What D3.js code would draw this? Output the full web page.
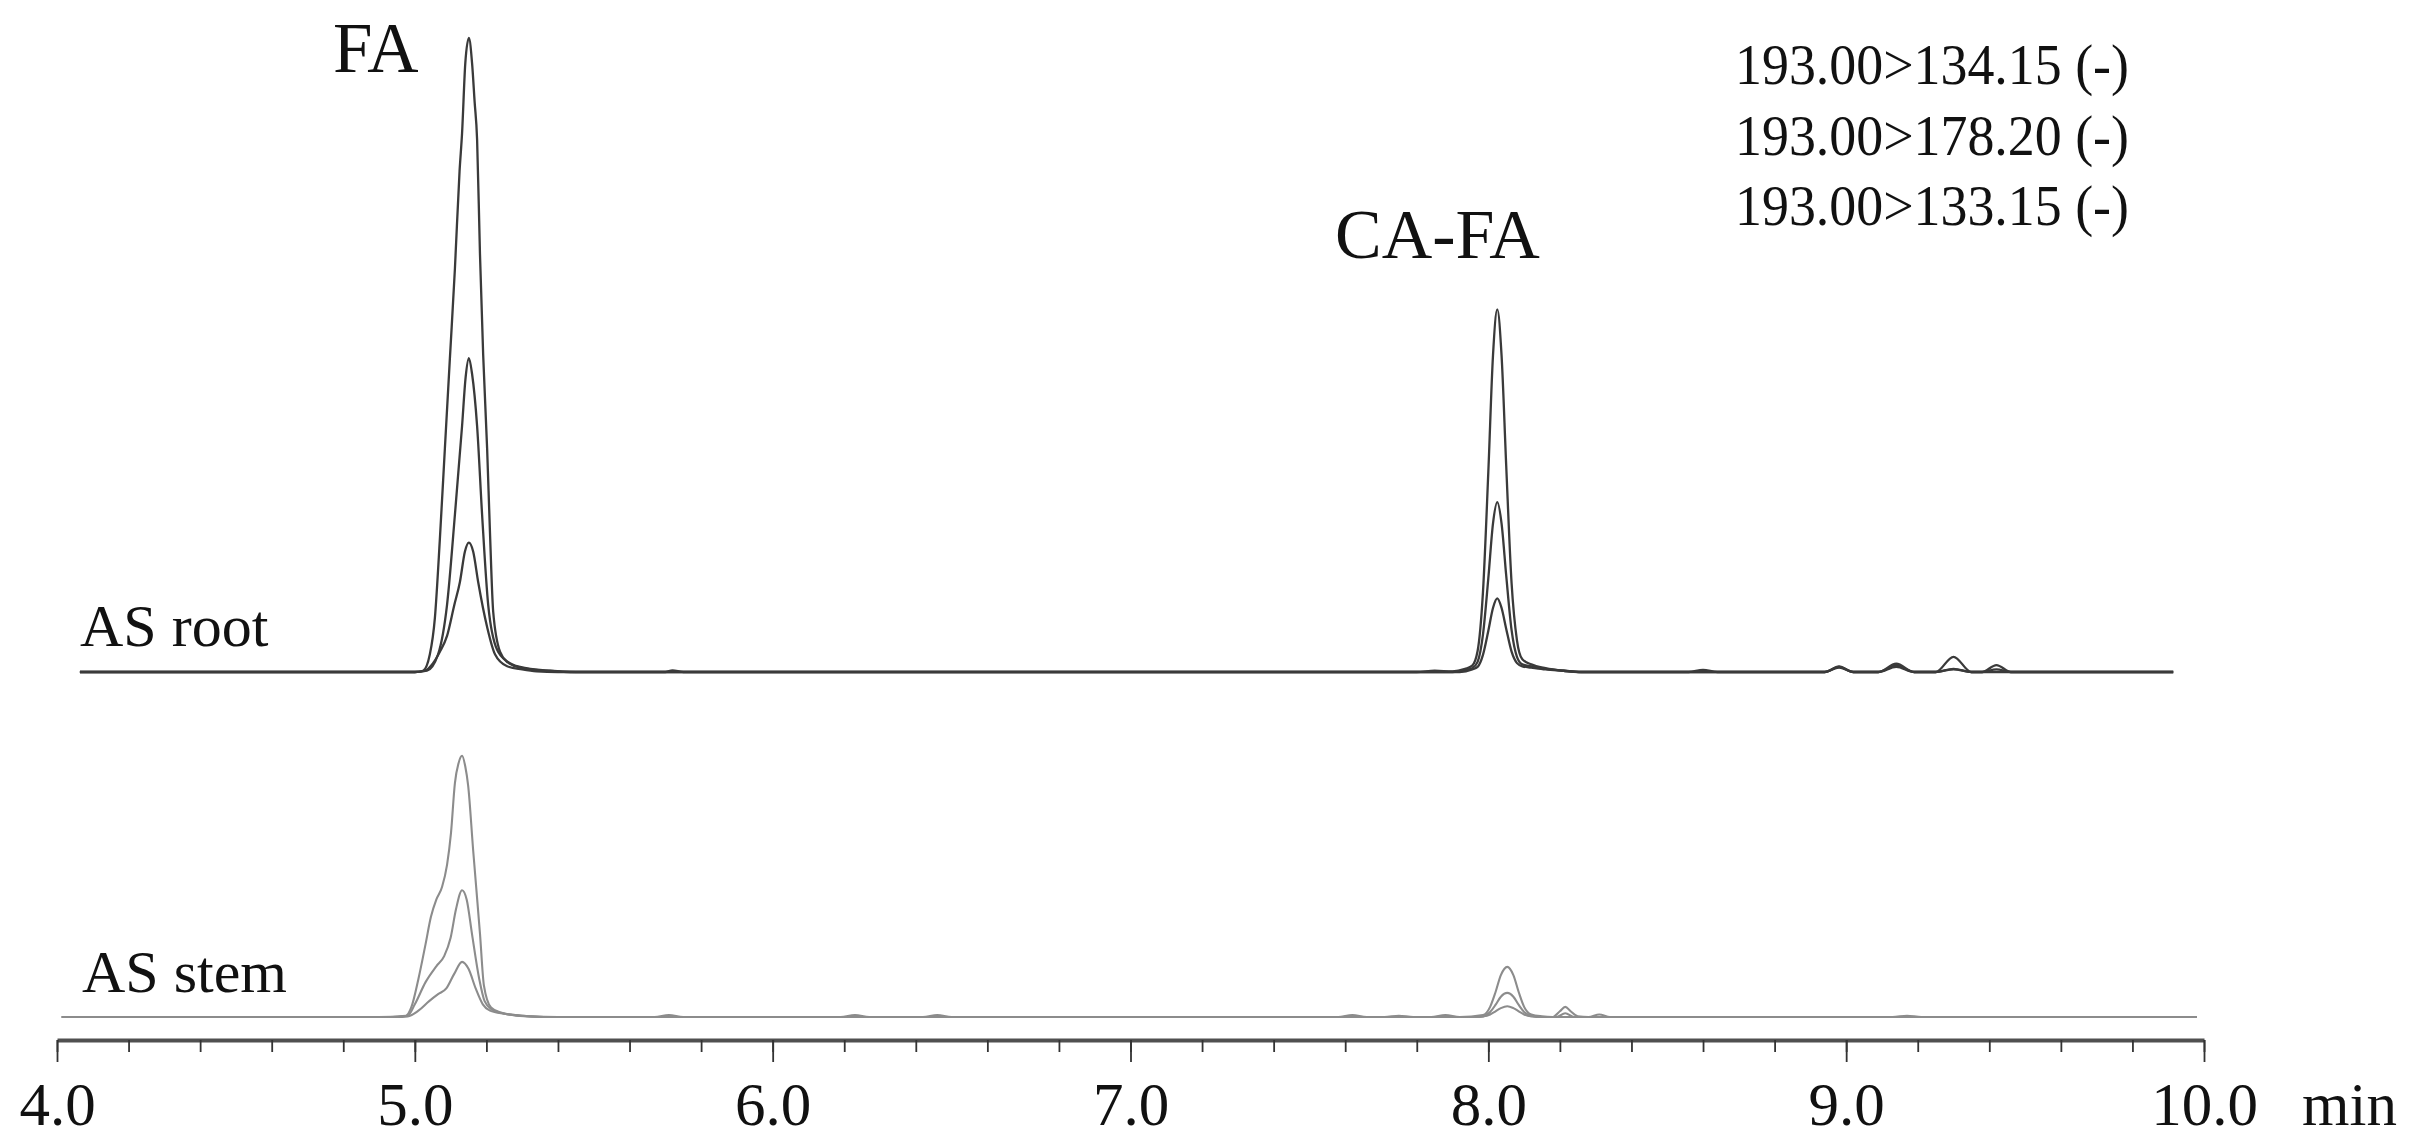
<!DOCTYPE html>
<html>
<head>
<meta charset="utf-8">
<script src="https://cdn.jsdelivr.net/npm/d3@7"></script>
<style>
  html, body { margin: 0; padding: 0; background: #fff; }
  svg { display: block; }
  text { font-family: "Liberation Serif", "Times New Roman", serif; fill: #111; }
</style>
</head>
<body>
<svg id="chart" width="2413" height="1146"></svg>
<script>
// ---------- DATA (time in min, relative intensity) ----------
const majorTicks = [4, 5, 6, 7, 8, 9, 10];
const tickLabels = ["4.0", "5.0", "6.0", "7.0", "8.0", "9.0", "10.0"];
const axisUnit = "min";
const peakLabels = ["FA", "CA-FA"];
const sampleLabels = ["AS root", "AS stem"];
const transitions = ["193.00>134.15 (-)", "193.00>178.20 (-)", "193.00>133.15 (-)"];

// AS root, three MRM transitions
const root1 = [[4.064,0],[4.50,0],[5.00,0],[5.023,0.2],[5.042,2.8],[5.056,8.5],[5.070,21],[5.084,35.3],[5.098,49.5],[5.112,63.6],[5.125,79],[5.132,85],[5.141,96],[5.151,100],[5.160,96],[5.167,90],[5.174,84],[5.182,66],[5.191,50],[5.202,35.3],[5.210,22],[5.219,9.5],[5.238,3.2],[5.260,1.5],[5.294,0.7],[5.370,0.2],[5.45,0],[5.70,0],[5.72,0.25],[5.75,0],[7.80,0],[7.85,0.2],[7.90,0.1],[7.935,0.5],[7.955,1.0],[7.970,3.3],[7.985,12.6],[8.000,31.6],[8.013,49.9],[8.025,57.2],[8.037,49.9],[8.050,32.5],[8.065,14],[8.080,5],[8.095,2],[8.120,1.2],[8.160,0.6],[8.210,0.2],[8.26,0],[8.56,0],[8.60,0.35],[8.64,0],[8.94,0],[8.98,0.9],[9.02,0],[9.09,0],[9.14,1.3],[9.19,0],[9.25,0],[9.30,2.4],[9.35,0],[9.38,0],[9.42,1.1],[9.46,0],[9.914,0]];
const root2 = [[4.064,0],[5.00,0],[5.034,0.2],[5.065,2.8],[5.090,10.6],[5.112,24.8],[5.132,38.8],[5.142,46.5],[5.151,49.5],[5.160,47],[5.174,38.8],[5.188,24.8],[5.205,10.6],[5.230,3.5],[5.260,1.6],[5.294,0.8],[5.378,0.2],[5.45,0],[7.90,0],[7.935,0.3],[7.955,0.6],[7.970,1.6],[7.985,5.9],[8.000,14.8],[8.013,23.4],[8.025,26.8],[8.037,23.4],[8.050,15.2],[8.065,6.6],[8.080,2.4],[8.095,1.2],[8.120,0.9],[8.160,0.5],[8.210,0.2],[8.26,0],[8.94,0],[8.98,0.8],[9.02,0],[9.09,0],[9.14,1.0],[9.19,0],[9.25,0],[9.30,0.5],[9.35,0],[9.38,0],[9.42,0.4],[9.46,0],[9.914,0]];
const root3 = [[4.064,0],[5.00,0],[5.028,0.2],[5.051,1.4],[5.070,3.2],[5.090,5.7],[5.110,10.5],[5.126,14.2],[5.140,19],[5.151,20.4],[5.163,19],[5.177,14.2],[5.202,7.1],[5.224,2.8],[5.258,0.9],[5.300,0.4],[5.340,0.1],[5.40,0],[7.92,0],[7.955,0.4],[7.970,0.8],[7.985,2.7],[8.000,6.5],[8.013,10.1],[8.025,11.6],[8.037,10.1],[8.050,6.8],[8.065,3.2],[8.080,1.4],[8.095,0.9],[8.120,0.7],[8.160,0.4],[8.210,0.2],[8.26,0],[8.94,0],[8.98,0.7],[9.02,0],[9.09,0],[9.14,0.8],[9.19,0],[9.25,0],[9.30,0.4],[9.35,0],[9.914,0]];

// AS stem, three MRM transitions
const stem1 = [[4.013,0],[4.90,0],[4.975,0.2],[4.990,1.5],[5.010,6],[5.030,11.5],[5.045,15.8],[5.060,18.5],[5.076,20.5],[5.090,24],[5.101,29],[5.112,36.9],[5.122,40],[5.132,41.2],[5.141,39.5],[5.149,36.5],[5.163,26.3],[5.182,13.2],[5.193,5],[5.213,1.5],[5.240,0.7],[5.275,0.3],[5.32,0.1],[5.40,0],[5.67,0],[5.71,0.3],[5.75,0],[6.19,0],[6.23,0.3],[6.27,0],[6.42,0],[6.46,0.3],[6.50,0],[7.58,0],[7.62,0.3],[7.66,0],[7.71,0],[7.75,0.2],[7.79,0],[7.84,0],[7.88,0.3],[7.92,0],[7.985,0.3],[8.005,1.6],[8.020,3.9],[8.035,6.6],[8.053,7.9],[8.070,6.6],[8.085,3.9],[8.100,1.6],[8.120,0.4],[8.15,0.1],[8.18,0],[8.20,0.9],[8.215,1.6],[8.23,0.9],[8.25,0.1],[8.28,0],[8.31,0.4],[8.34,0],[9.13,0],[9.17,0.2],[9.21,0],[9.98,0]];
const stem2 = [[4.013,0],[4.93,0],[4.980,0.2],[5.000,2],[5.030,5.5],[5.060,8],[5.082,9.6],[5.100,12.5],[5.115,17],[5.132,20],[5.145,18.5],[5.160,13],[5.180,6],[5.195,2.5],[5.215,1.2],[5.245,0.6],[5.30,0.2],[5.36,0],[7.96,0],[7.985,0.1],[8.005,0.8],[8.020,1.9],[8.035,3.2],[8.053,3.8],[8.070,3.2],[8.085,1.9],[8.100,0.8],[8.120,0.2],[8.15,0],[8.19,0],[8.215,0.6],[8.24,0],[9.98,0]];
const stem3 = [[4.013,0],[4.95,0],[4.980,0.1],[5.010,1],[5.040,2.5],[5.065,3.6],[5.088,4.5],[5.110,6.8],[5.132,8.7],[5.150,7.6],[5.170,4.5],[5.190,2],[5.210,1],[5.250,0.5],[5.30,0.2],[5.36,0],[7.96,0],[7.985,0.1],[8.005,0.4],[8.020,0.9],[8.035,1.4],[8.053,1.7],[8.070,1.4],[8.085,0.9],[8.100,0.4],[8.120,0.1],[8.15,0],[9.98,0]];

// ---------- DRAWING ----------
const svg = d3.select("#chart");
const x = d3.scaleLinear().domain([4, 10]).range([57, 2204]);
const yRoot = d3.scaleLinear().domain([0, 100]).range([672, 38]);
const yStem = d3.scaleLinear().domain([0, 100]).range([1017, 383]);

function lineFor(y) {
  return d3.line().x(d => x(d[0])).y(d => y(d[1])).curve(d3.curveMonotoneX);
}

const rootG = svg.append("g");
[root3, root2, root1].forEach(s => {
  rootG.append("path").datum(s).attr("d", lineFor(yRoot))
    .attr("fill", "none").attr("stroke", "#3a3a3a").attr("stroke-width", 2.3)
    .attr("stroke-linejoin", "round");
});
const stemG = svg.append("g");
[stem3, stem2, stem1].forEach(s => {
  stemG.append("path").datum(s).attr("d", lineFor(yStem))
    .attr("fill", "none").attr("stroke", "#8c8c8c").attr("stroke-width", 2.1)
    .attr("stroke-linejoin", "round");
});

// axis
const axisY = 1040;
const minorAxis = d3.axisBottom(x).ticks(30).tickSize(12).tickSizeOuter(0).tickFormat("");
const gMinor = svg.append("g").attr("transform", `translate(0,${axisY})`).call(minorAxis);
gMinor.select(".domain").attr("stroke", "#505050").attr("stroke-width", 4);
gMinor.selectAll(".tick line").attr("stroke", "#333").attr("stroke-width", 1.8);

const majorAxis = d3.axisBottom(x).tickValues(majorTicks).tickSize(22).tickSizeOuter(0)
  .tickFormat((d, i) => tickLabels[i]);
const gMajor = svg.append("g").attr("transform", `translate(0,${axisY})`).call(majorAxis);
gMajor.select(".domain").remove();
gMajor.selectAll(".tick line").attr("stroke", "#333").attr("stroke-width", 1.8);
gMajor.selectAll(".tick text")
  .attr("y", 85).attr("dy", 0)
  .style("font-family", '"Liberation Serif", "Times New Roman", serif')
  .style("font-size", "61px").attr("fill", "#111");

svg.append("text").attr("x", 2302).attr("y", axisY + 85)
  .style("font-size", "61px").text(axisUnit);

// peak labels
svg.append("text").attr("x", 333).attr("y", 72).style("font-size", "71px").text(peakLabels[0]);
svg.append("text").attr("x", 1335).attr("y", 258).style("font-size", "70px").text(peakLabels[1]);

// sample labels
svg.append("text").attr("x", 80).attr("y", 646).style("font-size", "60px").text(sampleLabels[0]);
svg.append("text").attr("x", 82).attr("y", 992).style("font-size", "60px").text(sampleLabels[1]);

// transitions legend
transitions.forEach((t, i) => {
  svg.append("text").attr("x", 1735).attr("y", 84 + i * 70.5)
    .style("font-size", "58px")
    .attr("textLength", 394).attr("lengthAdjust", "spacingAndGlyphs")
    .text(t);
});
</script>
</body>
</html>
